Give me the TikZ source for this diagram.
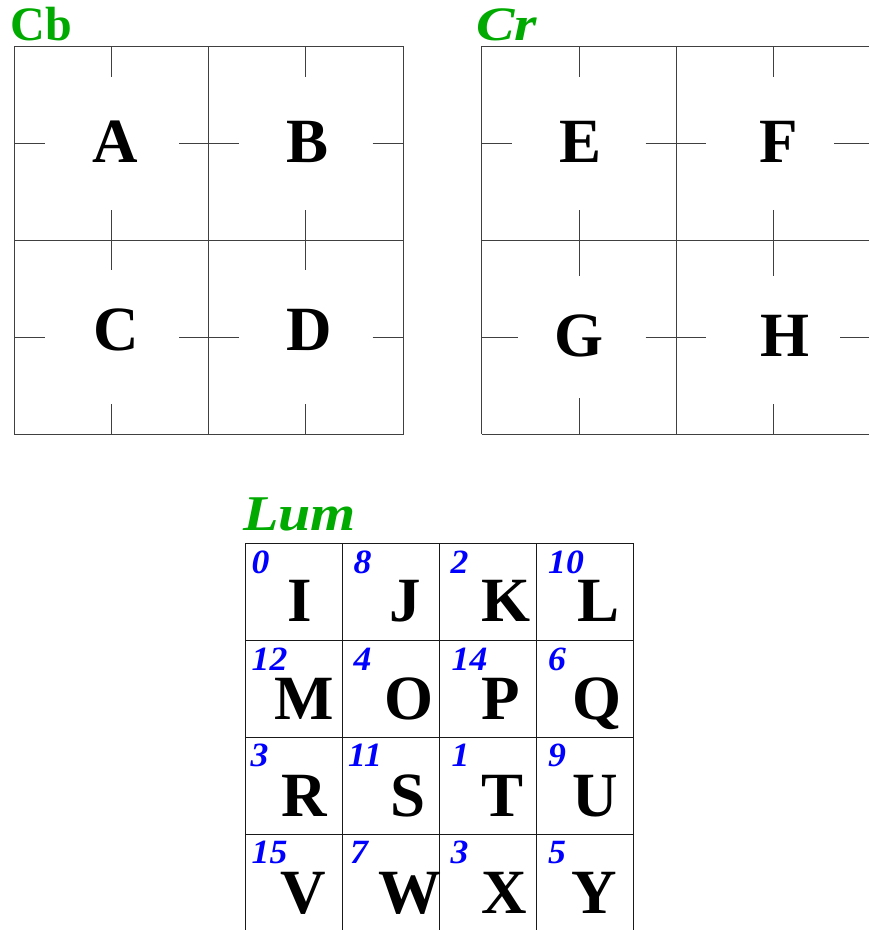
\documentclass[tikz,border=0pt]{standalone}
\usepackage{fontspec}
\setmainfont{Liberation Serif}
\definecolor{titlegreen}{RGB}{0,170,0}
\begin{document}
\begin{tikzpicture}[x=1pt,y=-1pt,
  gridline/.style={draw=black!75,line width=1pt},
  lumline/.style={draw=black!90,line width=1pt},
  title/.style={text=titlegreen,font=\fontsize{48}{48}\selectfont\bfseries,anchor=base west,inner sep=0pt},
  big/.style={font=\fontsize{63}{63}\selectfont\bfseries,anchor=base,inner sep=0pt},
  num/.style={text=blue,font=\fontsize{34}{34}\selectfont\bfseries\itshape,anchor=base west,inner sep=0pt,xscale=1.05}]
\useasboundingbox (0,0) rectangle (869,930);
\clip (0,0) rectangle (869,930);
\fill[white] (0,0) rectangle (869,930);

% ---------- Cb ----------
\node[title] (cbt) at (10.5,40.7) {Cb};
\draw[gridline] (14.7,46) rectangle (403.3,434.3);
\draw[gridline] (208.7,46) -- (208.7,434.3);
\draw[gridline] (14.7,240) -- (403.3,240);
\foreach \x in {111.5,305.5}{
  \draw[gridline] (\x,46) -- (\x,76.5);
  \draw[gridline] (\x,210) -- (\x,270);
  \draw[gridline] (\x,404) -- (\x,434.3);
}
\foreach \y in {143.3,337.3}{
  \draw[gridline] (14.7,\y) -- (45,\y);
  \draw[gridline] (179,\y) -- (239,\y);
  \draw[gridline] (372.7,\y) -- (403.3,\y);
}
\node[big] (A) at (115,162.3) {A};
\node[big] (B) at (307.5,162.3) {B};
\node[big] (C) at (115.8,350) {C};
\node[big] (D) at (309,350) {D};

% ---------- Cr ----------
\node[title,font=\fontsize{48}{48}\selectfont\bfseries\itshape,xscale=1.2] (crt) at (476,40.7) {Cr};
\draw[gridline] (481.7,46) -- (875,46);
\draw[gridline] (481.7,434.3) -- (875,434.3);
\draw[gridline] (481.7,46) -- (481.7,434.3);
\draw[gridline] (676,46) -- (676,434.3);
\draw[gridline] (481.7,240) -- (875,240);
\foreach \x in {579,773}{
  \draw[gridline] (\x,46) -- (\x,76.5);
  \draw[gridline] (\x,210) -- (\x,276);
}
\draw[gridline] (579,398.3) -- (579,434.3);
\draw[gridline] (773,404) -- (773,434.3);
\draw[gridline] (481.7,143.3) -- (511.7,143.3);
\draw[gridline] (645.7,143.3) -- (706,143.3);
\draw[gridline] (834,143.3) -- (875,143.3);
\draw[gridline] (481.7,337.3) -- (518.3,337.3);
\draw[gridline] (645.7,337.3) -- (706,337.3);
\draw[gridline] (840,337.3) -- (875,337.3);
\node[big] (E) at (580.5,162.3) {E};
\node[big] (F) at (779,162.3) {F};
\node[big] (G) at (578.7,356.5) {G};
\node[big] (H) at (784.5,356.5) {H};

% ---------- Lum ----------
\node[title,font=\fontsize{50}{50}\selectfont\bfseries\itshape,xscale=1.16] (lumt) at (243,530.7) {Lum};
\foreach \x in {245.5,342.3,439.3,536.3,633.5}{
  \draw[lumline] (\x,543.3) -- (\x,935);
}
\foreach \y in {543.3,640.5,737.7,834.5}{
  \draw[lumline] (245.5,\y) -- (633.5,\y);
}
% row 1
\node[num] (n0)  at (251.5,573) {0};
\node[num] (n8)  at (353.5,573) {8};
\node[num] (n2)  at (450.5,573) {2};
\node[num] (n10) at (548,573) {10};
\node[big] (I) at (299.5,621.7) {I};
\node[big] (J) at (405.5,621.7) {J};
\node[big] (K) at (506,621.7) {K};
\node[big] (L) at (599,621.7) {L};
% row 2
\node[num] (n12) at (251.5,670) {12};
\node[num] (n4)  at (353.5,670) {4};
\node[num] (n14) at (451.5,670) {14};
\node[num] (n6)  at (548,670) {6};
\node[big] (M) at (304.5,719) {M};
\node[big] (O) at (408.5,719) {O};
\node[big] (P) at (500.5,719) {P};
\node[big] (Q) at (597,719) {Q};
% row 3
\node[num] (n3a) at (250.5,766.7) {3};
\node[num] (n11) at (348,766.7) {11};
\node[num] (n1)  at (451.5,766.7) {1};
\node[num] (n9)  at (548,766.7) {9};
\node[big] (R) at (304,816.7) {R};
\node[big] (S) at (408,816.7) {S};
\node[big] (T) at (502.5,816.7) {T};
\node[big] (U) at (595.5,816.7) {U};
% row 4
\node[num] (n15) at (251.5,863.3) {15};
\node[num] (n7)  at (350,863.3) {7};
\node[num] (n3b) at (450.5,863.3) {3};
\node[num] (n5)  at (548,863.3) {5};
\node[big] (V) at (303.5,913.3) {V};
\node[big] (W) at (409.5,913.3) {W};
\node[big] (X) at (504,913.3) {X};
\node[big] (Y) at (594.5,913.3) {Y};
\end{tikzpicture}
\end{document}
